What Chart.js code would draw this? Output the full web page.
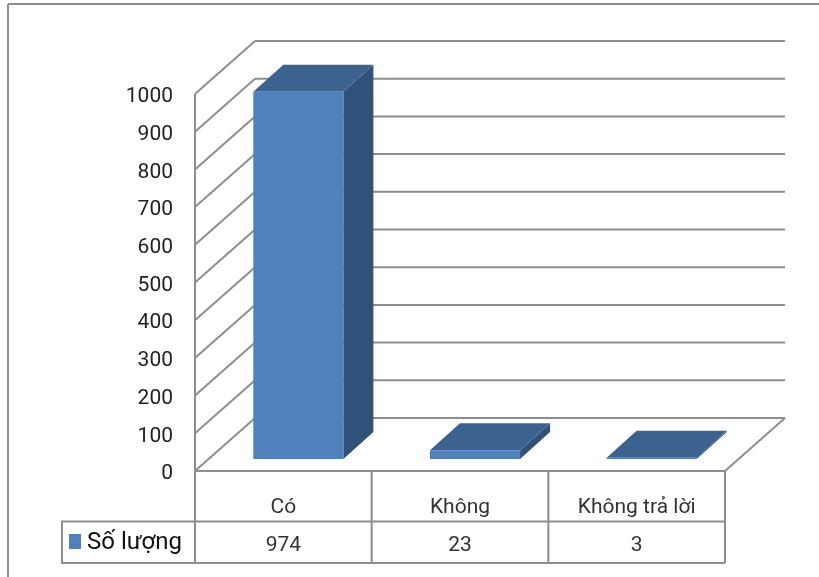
<!DOCTYPE html>
<html><head><meta charset="utf-8">
<style>html,body{margin:0;padding:0;background:#fff}canvas{display:block;position:absolute;left:0;top:0;filter:blur(0.45px)}</style>
<script src="https://cdn.jsdelivr.net/npm/chart.js@4"></script>
</head><body>
<div style="position:absolute;left:0;top:0;width:819px;height:577px"><canvas id="c"></canvas></div>
<script>
const categories = ["Có", "Không", "Không trả lời"];
const seriesName = "Số lượng";
const seriesValues = [974, 23, 3];
const yTicks = [0,100,200,300,400,500,600,700,800,900,1000];

const LINE = "#8e8e8e", FRONT = "#4f81bd", TOP = "#3c6390", SIDE = "#30527a";
const FONT = "Roboto";
const WALL = {dx:60, dy:53}, BAR = {dx:30, dy:27}, SHIFT = {dx:15, dy:12};
const FRAME = {x:8, y:4};
const TABLE = {left:62, row:521.5, bottom:563};

function seg(ctx, x1, y1, x2, y2){ctx.beginPath();ctx.moveTo(x1,y1);ctx.lineTo(x2,y2);ctx.stroke();}
function poly(ctx, pts, fill){ctx.fillStyle=fill;ctx.beginPath();pts.forEach((p,i)=>i?ctx.lineTo(p[0],p[1]):ctx.moveTo(p[0],p[1]));ctx.closePath();ctx.fill();}

const scene = {
  id:"scene",
  beforeDatasetsDraw(chart){
    const {ctx, chartArea:a, scales:{y}} = chart;
    ctx.save();
    ctx.strokeStyle = LINE; ctx.lineWidth = 2;
    seg(ctx, FRAME.x, FRAME.y, FRAME.x, 577);
    seg(ctx, FRAME.x, FRAME.y, 819, FRAME.y);
    seg(ctx, a.left, a.top, a.left, a.bottom);
    yTicks.forEach(v=>{
      const py = y.getPixelForValue(v);
      seg(ctx, a.left, py, a.left+WALL.dx, py-WALL.dy);
      seg(ctx, a.left+WALL.dx, py-WALL.dy, a.right+WALL.dx, py-WALL.dy);
    });
    seg(ctx, a.left, a.bottom, a.right, a.bottom);
    seg(ctx, a.right, a.bottom, a.right+WALL.dx, a.bottom-WALL.dy);
    ctx.restore();
    ctx.save();
    ctx.translate(SHIFT.dx, -SHIFT.dy);
    chart.getDatasetMeta(0).data.forEach(b=>{
      const l=b.x-b.width/2, r=b.x+b.width/2, t=b.y, m=b.base;
      poly(ctx,[[r,t],[r+BAR.dx,t-BAR.dy],[r+BAR.dx,m-BAR.dy],[r,m]],SIDE);
      poly(ctx,[[l,t],[l+BAR.dx,t-BAR.dy],[r+BAR.dx,t-BAR.dy],[r,t]],TOP);
    });
  },
  afterDatasetsDraw(chart){ chart.ctx.restore(); },
  afterDraw(chart){
    const {ctx, chartArea:a, scales:{x}} = chart;
    ctx.save();
    ctx.strokeStyle = LINE; ctx.lineWidth = 2;
    const edges = categories.map((_,i)=>x.getPixelForValue(i)-(a.right-a.left)/categories.length/2);
    edges.concat([a.right]).forEach(e=>seg(ctx,e,a.bottom,e,TABLE.bottom));
    seg(ctx,TABLE.left,TABLE.row,a.right,TABLE.row);
    seg(ctx,TABLE.left,TABLE.bottom,a.right,TABLE.bottom);
    seg(ctx,TABLE.left,TABLE.row-1,TABLE.left,TABLE.bottom+1);
    ctx.fillStyle = FRONT; ctx.fillRect(69,534,12,15);
    ctx.fillStyle = "#111"; ctx.font = "24px "+FONT; ctx.textBaseline="middle"; ctx.textAlign="left";
    ctx.fillText(seriesName,87,543);
    ctx.fillStyle = "#333"; ctx.font = "21px "+FONT; ctx.textAlign="center";
    seriesValues.forEach((v,i)=>ctx.fillText(String(v),x.getPixelForValue(i),546));
    ctx.restore();
  }
};

new Chart(document.getElementById("c"),{
  type:"bar",
  data:{labels:categories,datasets:[{label:seriesName,data:seriesValues,backgroundColor:FRONT,borderWidth:0,barPercentage:1,categoryPercentage:0.51,clip:false}]},
  plugins:[scene],
  options:{
    responsive:true,maintainAspectRatio:false,animation:false,
    layout:{padding:{left:0,top:94,right:94,bottom:0}},
    plugins:{legend:{display:false},tooltip:{enabled:false},title:{display:false}},
    scales:{
      x:{grid:{display:false},border:{display:false},
         afterFit(s){s.height=106;},
         ticks:{color:"#333",font:{family:FONT,size:21},padding:16,maxRotation:0,autoSkip:false}},
      y:{min:0,max:1000,grid:{display:false},border:{display:false},
         afterFit(s){s.width=195;},
         afterBuildTicks(s){s.ticks=yTicks.map(v=>({value:v}));},
         ticks:{color:"#222",font:{family:FONT,size:21},padding:14,labelOffset:3,callback:v=>String(v)}}
    }
  }
});
</script>
</body></html>
